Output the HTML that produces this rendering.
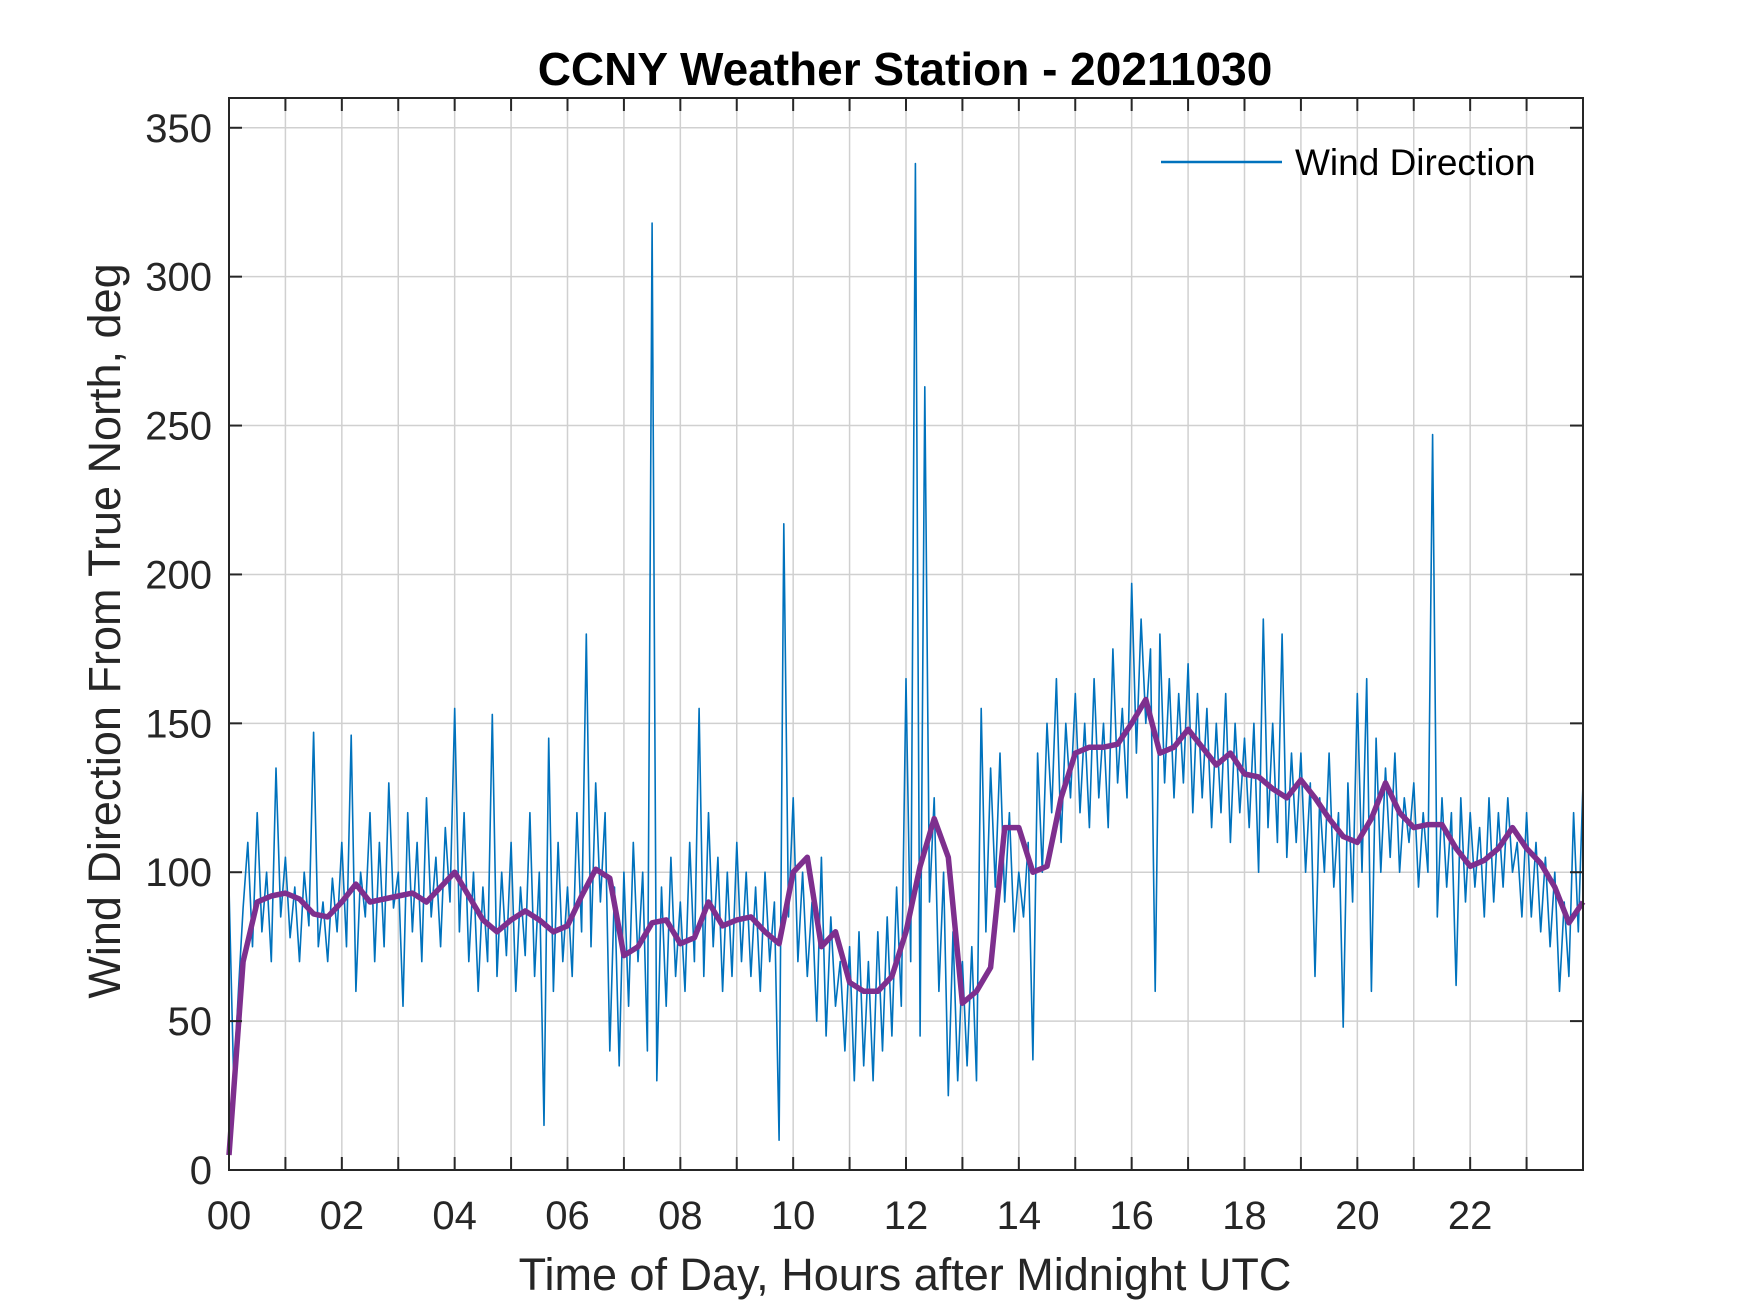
<!DOCTYPE html>
<html><head><meta charset="utf-8"><style>
html,body{margin:0;padding:0;background:#fff;}
svg{display:block;font-family:"Liberation Sans",Arial,sans-serif;}
</style></head><body>
<svg id="chart" width="1750" height="1313" viewBox="0 0 1750 1313" xmlns="http://www.w3.org/2000/svg">
<rect x="0" y="0" width="1750" height="1313" fill="#fff"/>
<rect x="229" y="98" width="1354" height="1072" fill="#fff"/>
<g id="grid"></g>
<g id="series"></g>
<g id="axes"></g>
<text x="905" y="85" text-anchor="middle" font-size="46" font-weight="bold" fill="#000">CCNY Weather Station - 20211030</text>
<text x="905" y="1290" text-anchor="middle" font-size="45" fill="#262626">Time of Day, Hours after Midnight UTC</text>
<text transform="translate(120,631) rotate(-90)" text-anchor="middle" font-size="45" fill="#262626">Wind Direction From True North, deg</text>
<g>
<line x1="1161" y1="162" x2="1282" y2="162" stroke="#0072BD" stroke-width="2.5"/>
<text x="1295" y="175" font-size="37" fill="#000">Wind Direction</text>
</g>
</svg>
<script>
const rawStepMin = 5;
const rawValues = [
95,30,60,88,110,75,120,80,100,70,135,85,
105,78,95,70,100,82,147,75,90,70,98,80,
110,75,146,60,100,85,120,70,110,75,130,88,
100,55,120,80,110,70,125,85,105,75,115,90,
155,80,120,70,100,60,95,70,153,65,100,72,
110,60,95,72,120,65,100,15,145,60,110,70,
95,65,120,80,180,75,130,90,120,40,95,35,
100,55,110,70,100,40,318,30,95,55,105,65,
90,60,110,70,155,65,120,75,105,60,100,65,
110,70,100,65,95,60,100,70,90,10,217,85,
125,70,100,65,90,50,105,45,85,55,70,40,
75,30,80,35,70,30,80,40,85,45,95,55,
165,70,338,45,263,90,125,60,100,25,80,30,
70,35,75,30,155,80,135,95,140,90,120,80,
100,85,110,37,140,100,150,120,165,110,150,125,
160,120,150,115,165,125,150,115,175,130,155,125,
197,140,185,150,175,60,180,130,165,125,160,130,
170,120,160,125,155,115,150,120,160,110,150,120,
145,115,150,100,185,115,150,110,180,105,140,110,
140,100,130,65,125,100,140,95,120,48,130,90,
160,100,165,60,145,100,135,105,140,100,125,110,
130,95,120,100,247,85,125,95,120,62,125,90,
120,95,115,85,125,90,120,95,125,100,110,85,
120,85,110,80,105,75,100,60,90,65,120,80,130
];
const smoothStepMin = 15;
const smoothValues = [
5,70,90,92,93,91,86,85,90,96,90,91,92,93,90,95,100,92,84,80,84,87,84,80,
82,92,101,98,72,75,83,84,76,78,90,82,84,85,80,76,100,105,75,80,63,60,60,65,
80,102,118,105,56,60,68,115,115,100,102,125,140,142,142,143,150,158,140,142,
148,142,136,140,133,132,128,125,131,125,118,112,110,118,130,120,115,116,116,108,
102,104,108,115,108,103,95,83,90
];
const yTicks = [0,50,100,150,200,250,300,350];
const xTickLabels = ["00","02","04","06","08","10","12","14","16","18","20","22"];

const L=229,R=1583,T=98,B=1170;
const xs = h => L + (h/24)*(R-L);
const ys = v => B - (v/360)*(B-T);
const NS="http://www.w3.org/2000/svg";
function mk(tag, attrs, parent){const e=document.createElementNS(NS,tag);for(const k in attrs)e.setAttribute(k,attrs[k]);parent.appendChild(e);return e;}
const grid=document.getElementById('grid'), series=document.getElementById('series'), axes=document.getElementById('axes');

for(let h=1;h<24;h++){
  const g=mk('line',{x1:xs(h),x2:xs(h),y1:T,y2:B,stroke:'#d0d0d0','stroke-width':1.5},grid);
  
  
}
yTicks.forEach(v=>{
  if(v===0) return;
  const g=mk('line',{x1:L,x2:R,y1:ys(v),y2:ys(v),stroke:'#d0d0d0','stroke-width':1.5},grid);
  
  
});

let d='';
rawValues.forEach((v,i)=>{const h=i*rawStepMin/60;d+=(i?'L':'M')+xs(h).toFixed(1)+' '+ys(v).toFixed(1);});
const p1=mk('path',{d:d,fill:'none',stroke:'#0072BD','stroke-width':1.6,'stroke-linejoin':'round'},series);



let d2='';
smoothValues.forEach((v,i)=>{const h=i*smoothStepMin/60;d2+=(i?'L':'M')+xs(h).toFixed(1)+' '+ys(v).toFixed(1);});
const p2=mk('path',{d:d2,fill:'none',stroke:'#7E2F8E','stroke-width':5.5,'stroke-linejoin':'round'},series);



const box=mk('rect',{x:L,y:T,width:R-L,height:B-T,fill:'none',stroke:'#262626','stroke-width':2},axes);



for(let h=0;h<24;h++){
  const t1=mk('line',{x1:xs(h),x2:xs(h),y1:B,y2:B-13,stroke:'#262626','stroke-width':2},axes);
  
  
  const t2=mk('line',{x1:xs(h),x2:xs(h),y1:T,y2:T+13,stroke:'#262626','stroke-width':2},axes);
  
  
}
xTickLabels.forEach((lab,i)=>{
  const t=mk('text',{x:xs(i*2),y:1229,'text-anchor':'middle','font-size':40,fill:'#262626'},axes);
  t.textContent=lab;
  
  
});
yTicks.forEach(v=>{
  const a=mk('line',{x1:L,x2:L+13,y1:ys(v),y2:ys(v),stroke:'#262626','stroke-width':2},axes);
  
  
  const b=mk('line',{x1:R,x2:R-13,y1:ys(v),y2:ys(v),stroke:'#262626','stroke-width':2},axes);
  
  
  const t=mk('text',{x:212,y:ys(v)+14,'text-anchor':'end','font-size':40,fill:'#262626'},axes);
  t.textContent=String(v);
  
  
});
</script>
</body></html>
